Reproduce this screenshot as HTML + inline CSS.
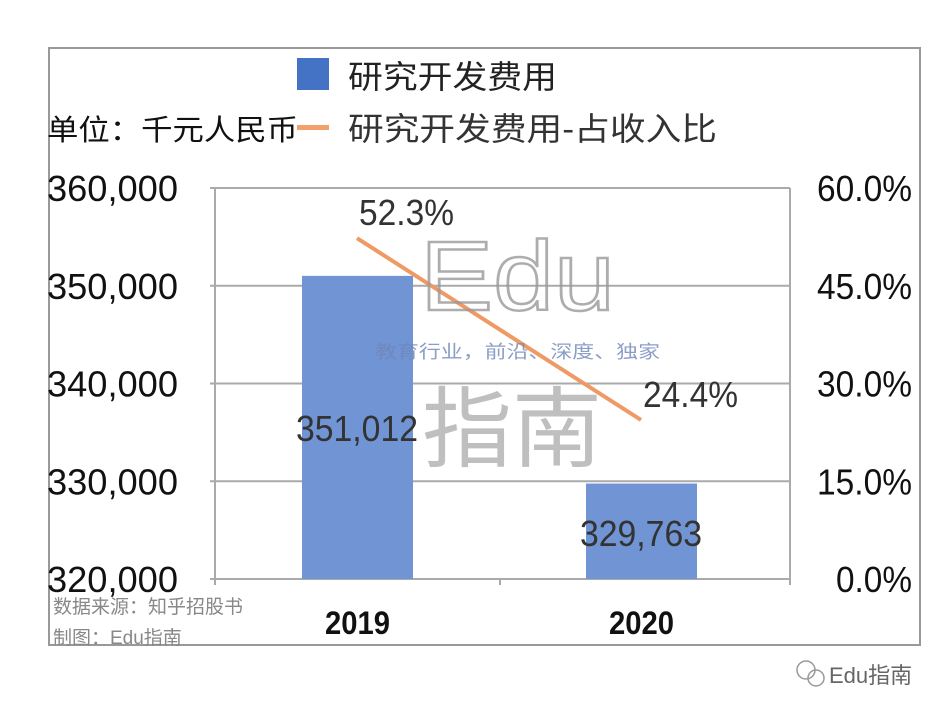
<!DOCTYPE html>
<html><head><meta charset="utf-8"><style>
body{margin:0;background:#fff;width:946px;height:714px;overflow:hidden;font-family:"Liberation Sans","Noto Sans CJK SC",sans-serif}
</style></head><body>
<svg width="946" height="714" viewBox="0 0 946 714" xmlns="http://www.w3.org/2000/svg" font-family="Liberation Sans, Noto Sans CJK SC, sans-serif">
<rect x="49" y="48" width="871" height="597" fill="none" stroke="#999" stroke-width="2"/>
<g id="grid"></g>
<g id="marks"></g>
<g>
<text x="420" y="310" font-size="98" textLength="195" lengthAdjust="spacingAndGlyphs" fill="none" stroke="#999" stroke-width="2.5" opacity="0.8">Edu</text>
<text x="375" y="358" font-size="18" textLength="285" lengthAdjust="spacingAndGlyphs" fill="#6f86b8" opacity="0.8">教育行业，前沿、深度、独家</text>
<text x="422" y="460" font-size="88" textLength="180" lengthAdjust="spacingAndGlyphs" fill="#aaa" opacity="0.75">指南</text>
</g>
<g>
<rect x="297" y="58" width="32" height="32" fill="#4472c4"/>
<text x="348" y="88" font-size="32" textLength="209" lengthAdjust="spacingAndGlyphs" fill="#222">研究开发费用</text>
<rect x="297" y="125" width="32" height="5" fill="#f4a06a"/>
<text x="348" y="140" font-size="32" textLength="369" lengthAdjust="spacingAndGlyphs" fill="#333">研究开发费用-占收入比</text>
</g>
<text x="47" y="140" font-size="29" textLength="251" lengthAdjust="spacingAndGlyphs" fill="#111">单位：千元人民币</text>
<text x="53" y="613" font-size="19" fill="#888">数据来源：知乎招股书</text>
<text x="53" y="644" font-size="19" fill="#888">制图：Edu指南</text>
<g>
<circle cx="806" cy="670" r="9" fill="none" stroke="#999" stroke-width="1.5"/>
<circle cx="816" cy="678" r="8" fill="none" stroke="#999" stroke-width="1.5"/>
<text x="829" y="683" font-size="22" fill="#666">Edu指南</text>
</g>
</svg>
<script>
const categories=["2019","2020"];
const rdValues=[351012,329763];
const rdLabels=["351,012","329,763"];
const ratioValues=[52.3,24.4];
const ratioLabels=["52.3%","24.4%"];
const leftTicks=[320000,330000,340000,350000,360000];
const leftTickLabels=["320,000","330,000","340,000","350,000","360,000"];
const rightTicks=[0,15,30,45,60];
const rightTickLabels=["0.0%","15.0%","30.0%","45.0%","60.0%"];
const NS="http://www.w3.org/2000/svg";
const X0=215,X1=790,Y0=579,Y1=188;
const yL=v=>Y0-(v-320000)/40000*(Y0-Y1);
const yR=v=>Y0-v/60*(Y0-Y1);
const band=284;
const xc=i=>X0+band*(i+0.5);
function mk(tag,attrs,parent){const e=document.createElementNS(NS,tag);for(const k in attrs)e.setAttribute(k,attrs[k]);parent.appendChild(e);return e;}
const grid=document.getElementById('grid'),marks=document.getElementById('marks');
leftTicks.forEach((t,i)=>{
 const g=mk('line',{x1:X0-5,x2:X1,y1:yL(t),y2:yL(t),stroke:'#aaa','stroke-width':2},grid);
 
 
 const l=mk('text',{x:47,y:yL(t)+13,'font-size':36,textLength:131,lengthAdjust:'spacingAndGlyphs',fill:'#111'},grid);l.textContent=leftTickLabels[i];
 
 
});
rightTicks.forEach((t,i)=>{
 const w=rightTickLabels[i].length*19;
 const l=mk('text',{x:912,y:yR(t)+13,'font-size':36,textLength:w,lengthAdjust:'spacingAndGlyphs',fill:'#111','text-anchor':'end'},grid);l.textContent=rightTickLabels[i];
 
 
});
[X0,X1].forEach(x=>{const a=mk('line',{x1:x,x2:x,y1:Y1,y2:Y0+5,stroke:'#aaa','stroke-width':2},grid);
 
 });
[X0,500,X1].forEach(x=>{const tk=mk('line',{x1:x,x2:x,y1:Y0,y2:Y0+6,stroke:'#aaa','stroke-width':2},grid);
 
 });
categories.forEach((c,i)=>{
 const b=mk('rect',{x:xc(i)-55,y:yL(rdValues[i]),width:111,height:Y0-yL(rdValues[i]),fill:'#7094d4'},marks);
 
 
 const bl=mk('text',{x:xc(i)-61,y:(i?546:441),'font-size':36,textLength:122,lengthAdjust:'spacingAndGlyphs',fill:'#333'},marks);bl.textContent=rdLabels[i];
 
 
 const xl=mk('text',{x:xc(i)-32,y:634,'font-size':32,'font-weight':'bold',textLength:65,lengthAdjust:'spacingAndGlyphs',fill:'#111'},marks);xl.textContent=c;
 
 
});
const pts=ratioValues.map((v,i)=>(xc(i))+','+yR(v)).join(' ');
const ln=mk('polyline',{points:pts,fill:'none',stroke:'#ef9a64','stroke-width':4},marks);


ratioValues.forEach((v,i)=>{
 const t=mk('text',{x:xc(i)+2,y:yR(v)-13,'font-size':36,textLength:95,lengthAdjust:'spacingAndGlyphs',fill:'#333'},marks);t.textContent=ratioLabels[i];
 
 
});
</script>
</body></html>
